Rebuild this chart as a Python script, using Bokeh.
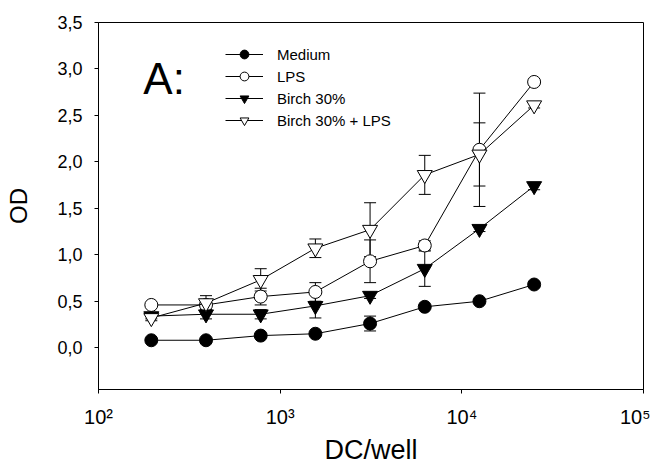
from bokeh.plotting import figure
from bokeh.models import (ColumnDataSource, Whisker, TeeHead, Legend, LegendItem,
                          FixedTicker, CustomJSTickFormatter, Label)
from bokeh.embed import file_html
from bokeh.resources import INLINE

# ---- data ----
dc_well = [195.3125, 390.625, 781.25, 1562.5, 3125, 6250, 12500, 25000]

medium = [0.08, 0.08, 0.13, 0.15, 0.26, 0.44, 0.50, 0.68]
medium_err = [0.01, 0.01, 0.02, 0.02, 0.08, 0.02, 0.02, 0.03]

lps = [0.46, 0.46, 0.55, 0.60, 0.93, 1.10, 2.13, 2.86]
lps_err = [0.02, 0.02, 0.09, 0.10, 0.23, 0.05, 0.61, 0.03]

birch = [0.34, 0.36, 0.36, 0.45, 0.56, 0.85, 1.28, 1.74]
birch_err = [0.03, 0.05, 0.05, 0.13, 0.03, 0.19, 0.03, 0.04]

birch_lps = [0.32, 0.48, 0.73, 1.07, 1.27, 1.86, 2.08, 2.61]
birch_lps_err = [0.03, 0.08, 0.12, 0.10, 0.29, 0.21, 0.34, 0.03]

series_names = ["Medium", "LPS", "Birch 30%", "Birch 30% + LPS"]
x_ticks = [100, 1000, 10000, 100000]
x_tick_labels = ["10\u00b2", "10\u00b3", "10\u2074", "10\u2075"]
y_ticks = [0.0, 0.5, 1.0, 1.5, 2.0, 2.5, 3.0, 3.5]
x_title = "DC/well"
y_title = "OD"

FONT = "Liberation Sans"

p = figure(width=650, height=470, x_axis_type="log",
           x_range=(100, 100000), y_range=(-0.45, 3.5),
           output_backend="svg", toolbar_location=None,
           min_border_left=98, min_border_right=7,
           min_border_top=22, min_border_bottom=81)

p.grid.visible = False
p.outline_line_color = "black"
p.outline_line_width = 1
p.background_fill_color = "white"
p.border_fill_color = "white"

# axes
p.xaxis.ticker = FixedTicker(ticks=x_ticks, minor_ticks=[])
p.xaxis.major_label_overrides = {t: l for t, l in zip(x_ticks, x_tick_labels)}
p.yaxis.ticker = FixedTicker(ticks=y_ticks, minor_ticks=[])
p.yaxis.formatter = CustomJSTickFormatter(code="return tick.toFixed(1).replace('.', ',');")

for ax in (p.xaxis[0], p.yaxis[0]):
    ax.axis_line_color = "black"
    ax.major_tick_line_color = "black"
    ax.major_tick_out = 4
    ax.major_tick_in = 0
    ax.minor_tick_line_color = None
    ax.major_label_text_font = FONT
    ax.major_label_text_color = "black"
    ax.axis_label_text_font = FONT
    ax.axis_label_text_font_style = "normal"
    ax.axis_label_text_color = "black"

p.xaxis.major_label_text_font_size = "20px"
p.yaxis.major_label_text_font_size = "18px"
p.xaxis.major_label_standoff = 12
p.yaxis.major_label_standoff = 12
p.xaxis.axis_label = x_title
p.yaxis.axis_label = y_title
p.xaxis.axis_label_text_font_size = "27px"
p.yaxis.axis_label_text_font_size = "24px"
p.xaxis.axis_label_standoff = 4
p.yaxis.axis_label_standoff = 22

specs = [
    (medium, medium_err, "circle", "black", 13),
    (lps, lps_err, "circle", "white", 13),
    (birch, birch_err, "inverted_triangle", "black", 15),
    (birch_lps, birch_lps_err, "inverted_triangle", "white", 15),
]

items = []
for name, (vals, errs, marker, fill, size) in zip(series_names, specs):
    src = ColumnDataSource(dict(
        x=dc_well, y=vals,
        upper=[v + e for v, e in zip(vals, errs)],
        lower=[v - e for v, e in zip(vals, errs)],
    ))
    ln = p.line("x", "y", source=src, line_color="black", line_width=1)
    sc = p.scatter("x", "y", source=src, marker=marker, size=size,
                   fill_color=fill, line_color="black", line_width=1)
    wh = Whisker(base="x", upper="upper", lower="lower", source=src,
                 dimension="height", line_color="black", line_width=1,
                 upper_head=TeeHead(size=12, line_color="black", line_width=1),
                 lower_head=TeeHead(size=12, line_color="black", line_width=1))
    p.add_layout(wh)
    items.append(LegendItem(label=name, renderers=[ln, sc]))

legend = Legend(items=items, location=(127, 258),
                label_text_font=FONT, label_text_font_size="15px",
                label_text_color="black",
                glyph_width=38, glyph_height=22, spacing=0,
                padding=0, margin=0, label_standoff=14,
                border_line_color=None, background_fill_alpha=0)
p.add_layout(legend, "center")

p.add_layout(Label(x=176.6, y=2.90, text="A:", text_font=FONT,
                   text_font_size="44px", text_color="black",
                   text_align="left", text_baseline="alphabetic"))

open("out.html", "w").write(file_html(p, INLINE))
